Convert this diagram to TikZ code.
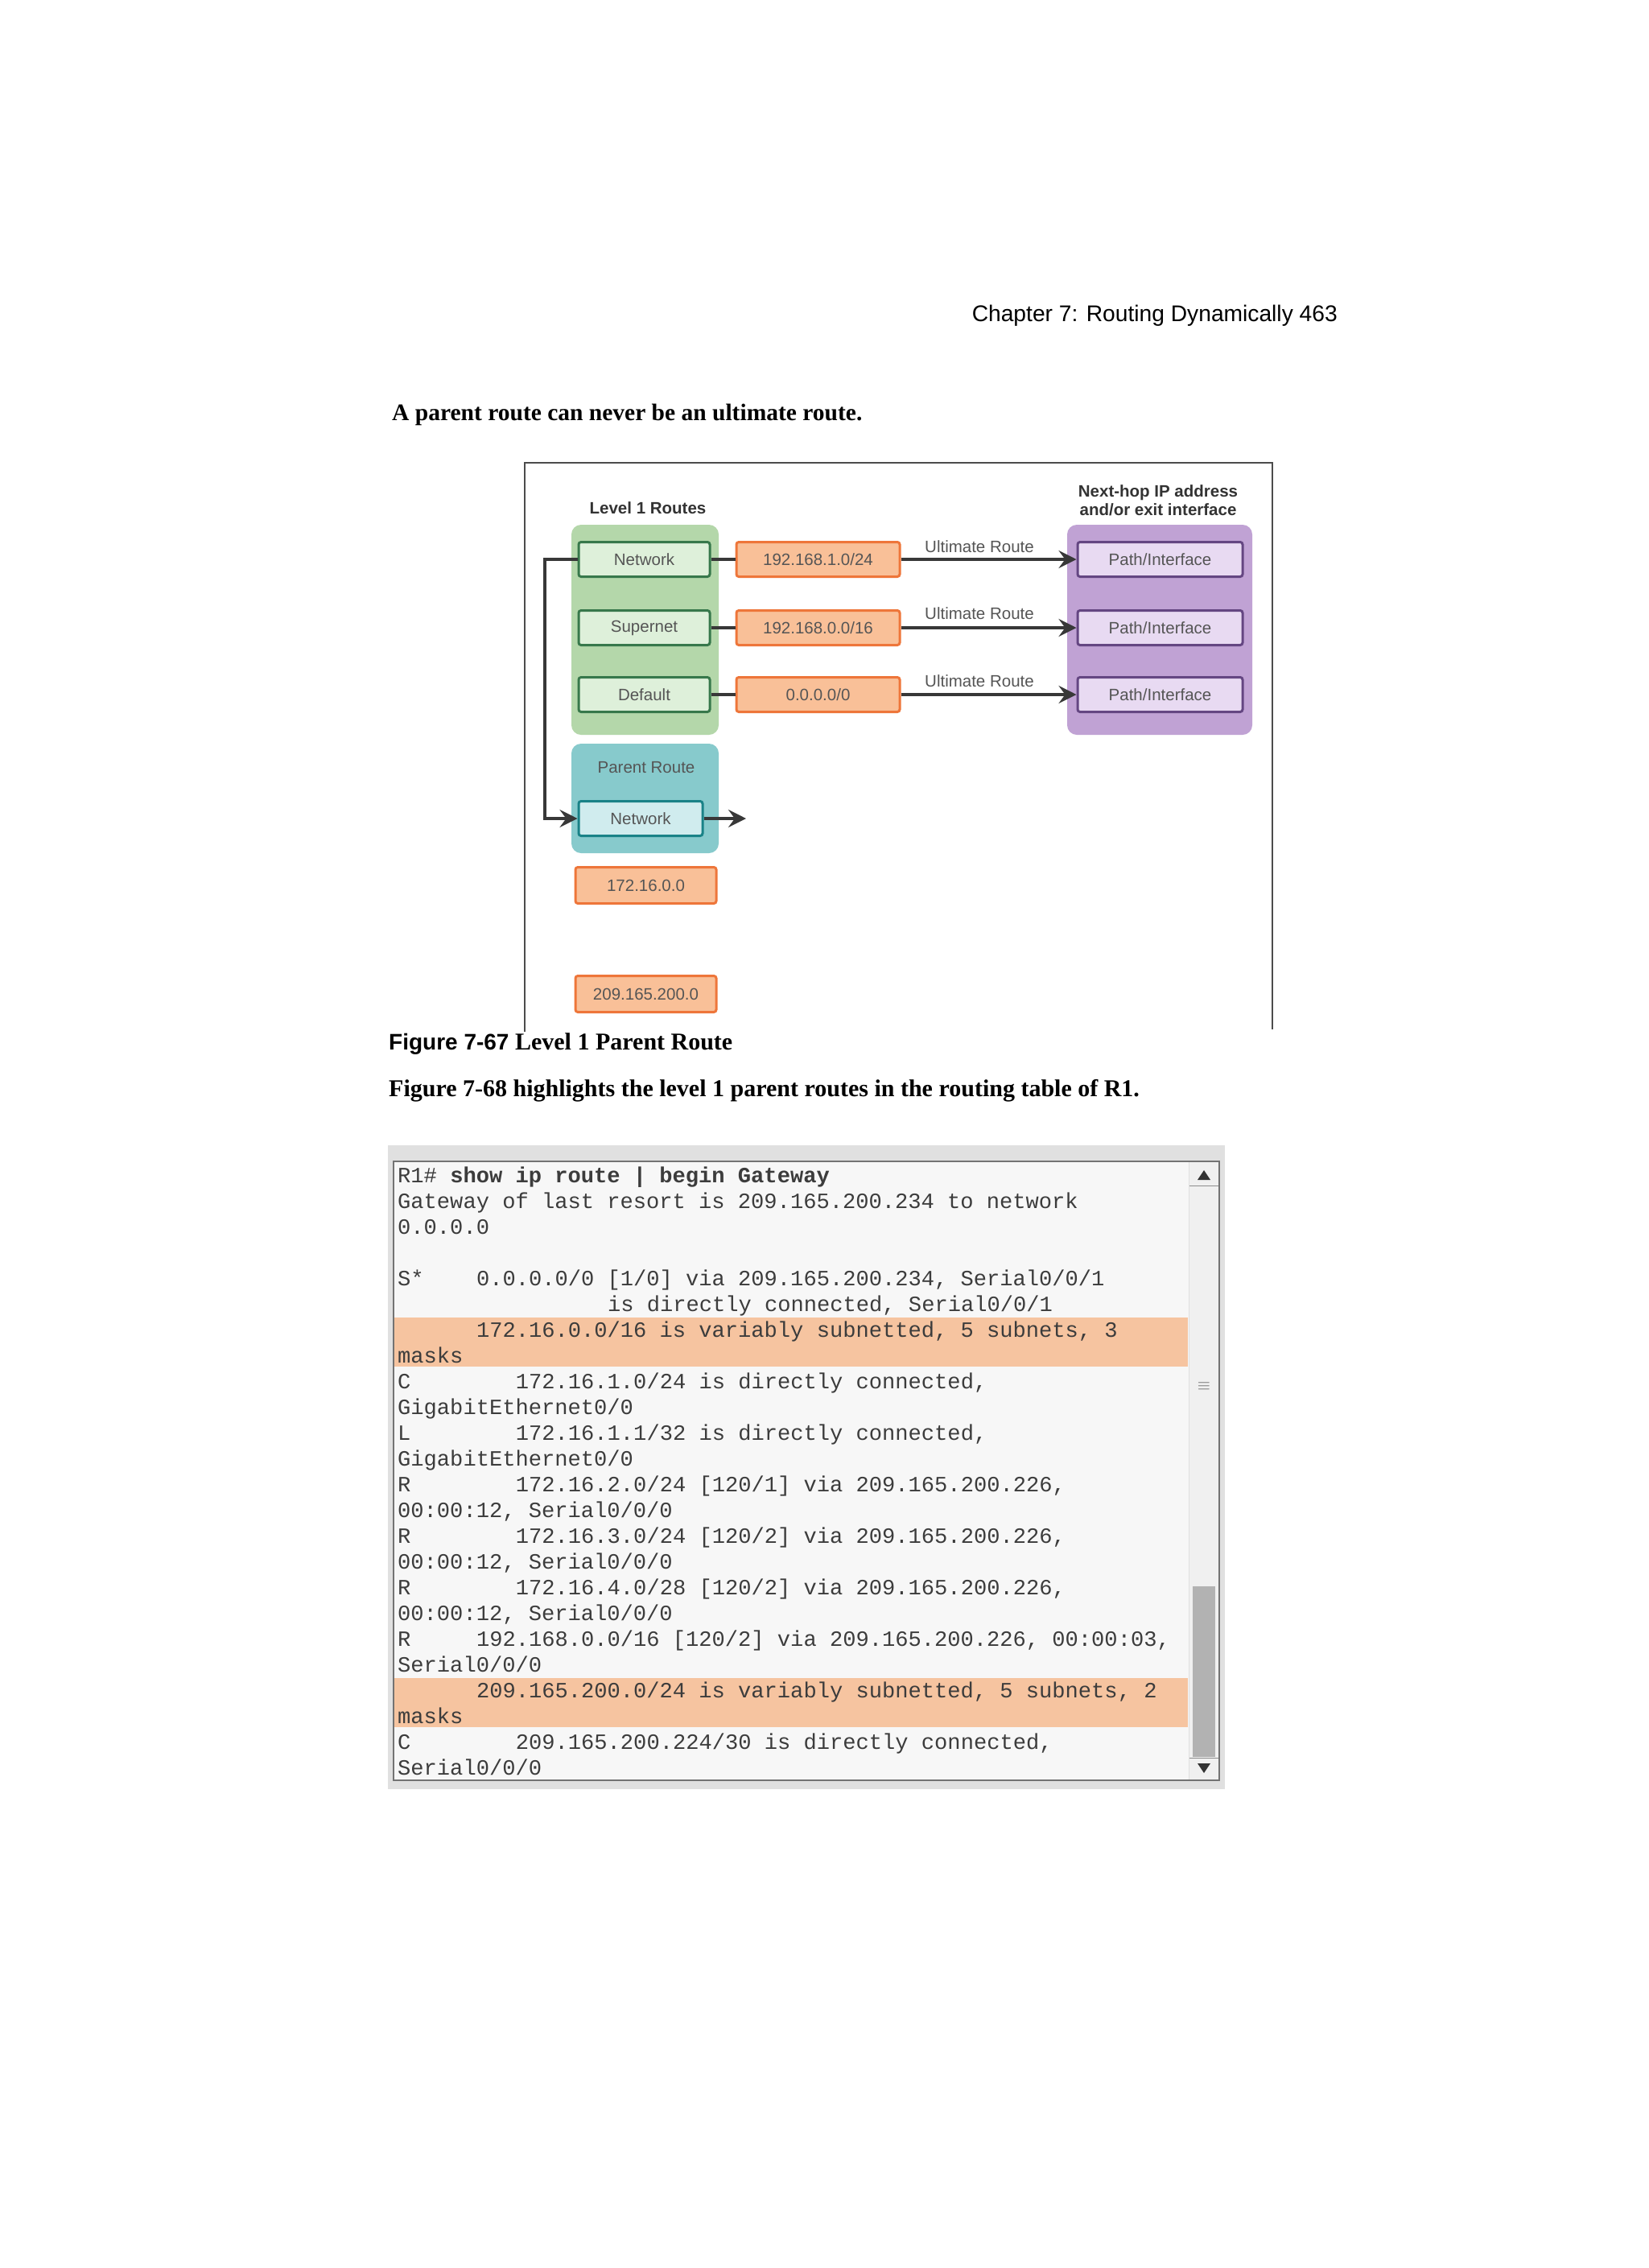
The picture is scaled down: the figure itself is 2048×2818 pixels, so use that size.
\documentclass[tikz,border=0pt]{standalone}
\usepackage{fontspec}
\setmainfont{Liberation Serif}
\setsansfont{Liberation Sans}
\setmonofont{Liberation Mono}
\usetikzlibrary{arrows.meta}
\definecolor{gbg}{RGB}{180,215,170}
\definecolor{gin}{RGB}{222,240,218}
\definecolor{gbd}{RGB}{55,120,75}
\definecolor{obg}{RGB}{249,192,152}
\definecolor{obd}{RGB}{238,118,58}
\definecolor{pbg}{RGB}{192,162,212}
\definecolor{pin}{RGB}{232,218,242}
\definecolor{pbd}{RGB}{100,70,130}
\definecolor{tbg}{RGB}{135,202,204}
\definecolor{tin}{RGB}{208,236,238}
\definecolor{tbd}{RGB}{25,130,135}
\definecolor{txg}{RGB}{85,85,85}
\definecolor{hl}{RGB}{246,196,160}
\definecolor{tt}{RGB}{60,60,60}
\begin{document}
\begin{tikzpicture}[x=1pt,y=-1pt,
  ib/.style={draw,line width=3pt,rounded corners=3pt,minimum height=43pt,inner sep=0pt,font=\sffamily\fontsize{20.5}{24}\selectfont,text=txg},
  gbox/.style={ib,draw=gbd,fill=gin,minimum width=163pt},
  obox/.style={ib,draw=obd,fill=obg,minimum width=203pt},
  pbox/.style={ib,draw=pbd,fill=pin,minimum width=205pt},
  tbox/.style={ib,draw=tbd,fill=tin,minimum width=154pt},
  lbl/.style={font=\sffamily\fontsize{20.5}{24}\selectfont,text=txg},
  hd/.style={font=\sffamily\bfseries\fontsize{20.5}{23}\selectfont,text=black!80,align=center},
  con/.style={line width=4pt,draw=black!78},
  arr/.style={con,-{Stealth[length=22pt,width=22pt,inset=8pt]}},
  tl/.style={anchor=base west,inner sep=0pt,font=\ttfamily\fontsize{27.1}{30}\selectfont,text=tt},
  ser/.style={anchor=base west,inner sep=0pt,font=\bfseries\fontsize{30}{34}\selectfont}]
\useasboundingbox (0,0) rectangle (2048,2818);
\fill[white] (0,0) rectangle (2048,2818);
% header
\node[anchor=base east,inner sep=0pt,font=\sffamily\fontsize{28.2}{32}\selectfont] (hdr) at (1662,399) {Chapter 7: Routing Dynamically 463};
\node[ser,font=\bfseries\fontsize{29.5}{34}\selectfont] (intro) at (487,522) {A parent route can never be an ultimate route.};
% frame
\draw[line width=2pt,black!70] (652,1282) -- (652,575) -- (1581,575) -- (1581,1279);
% backgrounds
\fill[gbg,rounded corners=12pt] (710,652) rectangle (893,913);
\fill[pbg,rounded corners=12pt] (1326,652) rectangle (1556,913);
\fill[tbg,rounded corners=12pt] (710,924) rectangle (893,1060);
\node[hd] (l1) at (805,631) {Level 1 Routes};
\node[hd] (nh) at (1439,622) {Next-hop IP address\\and/or exit interface};
% rows
\node[gbox] (g1) at (800.5,695) {Network};
\node[gbox] (g2) at (800.5,780) {Supernet};
\node[gbox] (g3) at (800.5,863) {Default};
\node[obox] (o1) at (1016.5,695) {192.168.1.0/24};
\node[obox] (o2) at (1016.5,780) {192.168.0.0/16};
\node[obox] (o3) at (1016.5,863) {0.0.0.0/0};
\node[pbox] (p1) at (1441.5,695) {Path/Interface};
\node[pbox] (p2) at (1441.5,780) {Path/Interface};
\node[pbox] (p3) at (1441.5,863) {Path/Interface};
\foreach \i/\y in {1/679,2/762,3/846}{
  \node[lbl] (u\i) at (1217,\y) {Ultimate Route};
  \draw[con] (g\i) -- (o\i);
  \draw[arr] (o\i) -- (p\i);
}
\node[lbl] (pr) at (803,954) {Parent Route};
\node[tbox] (pn) at (796,1017) {Network};
\coordinate (lc) at (677,695);
\coordinate (lb) at (677,1017);
\coordinate (out) at (927,1017);
\draw[arr] (g1.west) -- (lc) -- (lb) -- (pn.west);
\draw[arr] (pn.east) -- (out);
\node[obox,minimum width=175pt,minimum height=45pt] (a1) at (802.5,1100) {172.16.0.0};
\node[obox,minimum width=175pt,minimum height=45pt] (a2) at (802.5,1235) {209.165.200.0};
% captions
\node[ser] (cap) at (483,1304) {{\sffamily\fontsize{28}{32}\selectfont Figure 7-67} Level 1 Parent Route};
\node[ser] (txt) at (483,1362) {Figure 7-68 highlights the level 1 parent routes in the routing table of R1.};
% terminal
\fill[black!12] (482,1423) rectangle (1522,2223);
\fill[black!3] (489,1443) rectangle (1477,2212);
\draw[black!55,line width=1.5pt] (489,1443) rectangle (1515,2212);
\fill[hl] (490,1637) rectangle (1476,1698);
\fill[hl] (490,2085) rectangle (1476,2146);
% scrollbar
\fill[black!6] (1478,1444) rectangle (1514,2211);
\fill[black!30] (1482,1971) rectangle (1510,2183);
\draw[black!45,line width=1pt] (1478,1473) -- (1514,1473) (1478,2184) -- (1514,2184);
\fill[black!80] (1488,1466) -- (1504,1466) -- (1496,1454) -- cycle;
\fill[black!80] (1488,2191) -- (1504,2191) -- (1496,2203) -- cycle;
\node[font=\sffamily\fontsize{20}{20}\selectfont,text=black!60] (sb) at (1496,1723) {$\equiv$};
\def\cw{16.3}
\def\ly#1{1469+(#1-1)*32.04}
\node[tl] (t1) at (494,{\ly{1}}) {R1\# \textbf{show ip route | begin Gateway}};
\node[tl] (t2) at (494,{\ly{2}}) {Gateway of last resort is 209.165.200.234 to network};
\node[tl] (t3) at (494,{\ly{3}}) {0.0.0.0};
\node[tl] (t5a) at (494,{\ly{5}}) {S*};
\node[tl] (t5) at (494+6*\cw,{\ly{5}}) {0.0.0.0/0 [1/0] via 209.165.200.234, Serial0/0/1};
\node[tl] (t6) at (494+16*\cw,{\ly{6}}) {is directly connected, Serial0/0/1};
\node[tl] (t7) at (494+6*\cw,{\ly{7}}) {172.16.0.0/16 is variably subnetted, 5 subnets, 3};
\node[tl] (t8) at (494,{\ly{8}}) {masks};
\node[tl] (t9a) at (494,{\ly{9}}) {C};
\node[tl] (t9) at (494+9*\cw,{\ly{9}}) {172.16.1.0/24 is directly connected,};
\node[tl] (t10) at (494,{\ly{10}}) {GigabitEthernet0/0};
\node[tl] (t11a) at (494,{\ly{11}}) {L};
\node[tl] (t11) at (494+9*\cw,{\ly{11}}) {172.16.1.1/32 is directly connected,};
\node[tl] (t12) at (494,{\ly{12}}) {GigabitEthernet0/0};
\node[tl] (t13a) at (494,{\ly{13}}) {R};
\node[tl] (t13) at (494+9*\cw,{\ly{13}}) {172.16.2.0/24 [120/1] via 209.165.200.226,};
\node[tl] (t14) at (494,{\ly{14}}) {00:00:12, Serial0/0/0};
\node[tl] (t15a) at (494,{\ly{15}}) {R};
\node[tl] (t15) at (494+9*\cw,{\ly{15}}) {172.16.3.0/24 [120/2] via 209.165.200.226,};
\node[tl] (t16) at (494,{\ly{16}}) {00:00:12, Serial0/0/0};
\node[tl] (t17a) at (494,{\ly{17}}) {R};
\node[tl] (t17) at (494+9*\cw,{\ly{17}}) {172.16.4.0/28 [120/2] via 209.165.200.226,};
\node[tl] (t18) at (494,{\ly{18}}) {00:00:12, Serial0/0/0};
\node[tl] (t19a) at (494,{\ly{19}}) {R};
\node[tl] (t19) at (494+6*\cw,{\ly{19}}) {192.168.0.0/16 [120/2] via 209.165.200.226, 00:00:03,};
\node[tl] (t20) at (494,{\ly{20}}) {Serial0/0/0};
\node[tl] (t21) at (494+6*\cw,{\ly{21}}) {209.165.200.0/24 is variably subnetted, 5 subnets, 2};
\node[tl] (t22) at (494,{\ly{22}}) {masks};
\node[tl] (t23a) at (494,{\ly{23}}) {C};
\node[tl] (t23) at (494+9*\cw,{\ly{23}}) {209.165.200.224/30 is directly connected,};
\node[tl] (t24) at (494,{\ly{24}}) {Serial0/0/0};
\end{tikzpicture}
\end{document}
